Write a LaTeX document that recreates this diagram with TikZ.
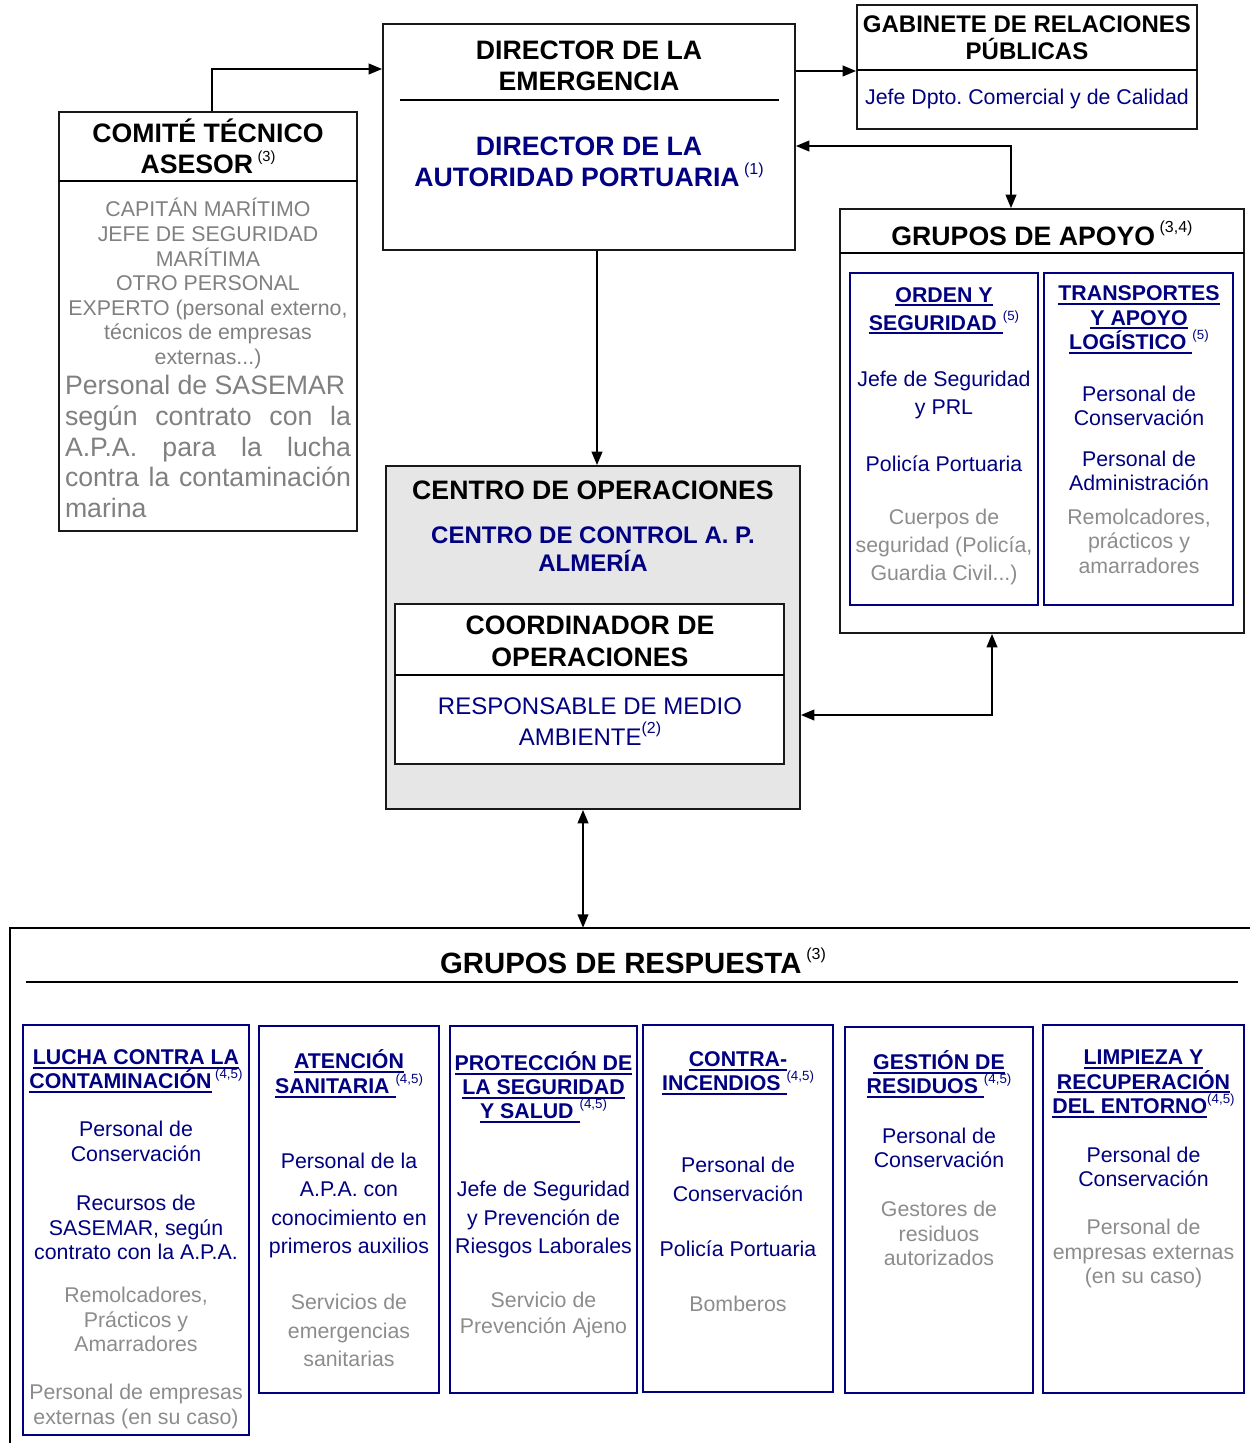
\documentclass[tikz,border=0pt]{standalone}
\usepackage{fontspec}
\setmainfont{Liberation Sans}
\usetikzlibrary{arrows.meta,fit}
\definecolor{navy}{RGB}{0,0,128}
\definecolor{gtxt}{RGB}{128,128,128}
\definecolor{gtxtb}{RGB}{140,140,140}
\definecolor{opfill}{RGB}{230,230,230}
\newcommand\supn[3]{\raisebox{#1}{\fontsize{#2}{#2}\selectfont\mdseries #3}}
\newcommand\myul[1]{\setbox0\hbox{#1}\rlap{\rule[-3pt]{\wd0}{1.5pt}}\box0}
\frenchspacing
\tikzset{
  box/.style={draw=black!90, line width=1.4pt, inner sep=0pt},
  bbox/.style={draw=navy, line width=1.3pt, inner sep=0pt},
  conn/.style={line width=1.3pt, -{Triangle[length=10pt,width=8pt]}},
  conn2/.style={line width=1.3pt, {Triangle[length=10pt,width=8pt]}-{Triangle[length=10pt,width=8pt]}},
  txt/.style={align=center, inner sep=0pt},
  hd/.style={txt, font=\fontsize{20}{23.25}\selectfont\bfseries},
  bh/.style={txt, text=navy, font=\fontsize{16}{#1}\selectfont\bfseries},
  bt/.style={txt, text=navy, font=\fontsize{16}{#1}\selectfont},
  gt/.style={txt, text=gtxtb, font=\fontsize{16}{#1}\selectfont},
  bh/.default=18, bt/.default=18, gt/.default=18.4,
  sep/.style={line width=1.4pt}
}
\begin{document}
\begin{tikzpicture}[x=0.75pt,y=-0.75pt]
\useasboundingbox (0,0) rectangle (1250,1443);

% ---------- Comite tecnico asesor
\node[box, fit={(59,112)(357,531)}] (comite) {};
\draw[sep] (59,181) -- (357,181);
\node[hd] (comiteT) at (208,146.5) {COMITÉ TÉCNICO\\ASESOR\,\supn{0.9ex}{11}{(3)}};
\node[txt, text=gtxt, font=\fontsize{16}{18.4}\selectfont] (comiteA) at (208,283.5)
  {CAPITÁN MARÍTIMO\\JEFE DE SEGURIDAD\\MARÍTIMA\\OTRO PERSONAL\\EXPERTO (personal externo,\\técnicos de empresas\\externas...)};
\node[txt, align=left, text=gtxt, font=\fontsize{20}{23.1}\selectfont] (comiteB) at (208,446.5)
  {Personal de SASEMAR\\\makebox[214.5pt][s]{según contrato con la}\\\makebox[214.5pt][s]{A.P.A. para la lucha}\\\makebox[214.5pt][s]{contra la contaminación}\\marina};

% ---------- Director
\node[box, fit={(383,24)(795,250)}] (director) {};
\draw[sep] (400,100) -- (779,100);
\node[hd] (dirT) at (589,65.5) {DIRECTOR DE LA\\EMERGENCIA};
\node[hd, text=navy] (dirB) at (589,162) {DIRECTOR DE LA\\AUTORIDAD PORTUARIA\,\supn{0.9ex}{12}{(1)}};

% ---------- Gabinete
\node[box, fit={(857,5)(1197,129)}] (gabinete) {};
\draw[sep] (857,70) -- (1197,70);
\node[txt, font=\fontsize{18}{20.25}\selectfont\bfseries] (gabT) at (1027,37.5) {GABINETE DE RELACIONES\\PÚBLICAS};
\node[bt] (gabB) at (1027,98.5) {Jefe Dpto. Comercial y de Calidad};

% ---------- Grupos de apoyo
\node[box, fit={(840,209)(1244,633)}] (apoyo) {};
\draw[sep] (840,253) -- (1244,253);
\node[hd] (apoyoT) at (1042,233) {GRUPOS DE APOYO\,\supn{0.9ex}{12}{(3,4)}};
\node[bbox, fit={(850,273)(1038,605)}] (orden) {};
\node[bbox, fit={(1044,273)(1233,605)}] (transp) {};
\node[bh=21] (ordenH) at (944,311) {\myul{ORDEN Y}\\\myul{SEGURIDAD\ }\supn{0.9ex}{10}{(5)}};
\node[bt=21] (ordenA) at (944,395) {Jefe de Seguridad\\y PRL};
\node[bt] (ordenB) at (944,464) {Policía Portuaria};
\node[gt=21] (ordenC) at (944,547) {Cuerpos de\\seguridad (Policía,\\Guardia Civil...)};
\node[bh=18.4] (transpH) at (1139,320) {\myul{TRANSPORTES}\\\myul{Y APOYO}\\\myul{LOGÍSTICO\ }\supn{0.9ex}{10}{(5)}};
\node[bt] (transpA) at (1139,405.5) {Personal de\\Conservación};
\node[bt] (transpB) at (1139,471) {Personal de\\Administración};
\node[gt] (transpC) at (1139,541) {Remolcadores,\\prácticos y\\amarradores};

% ---------- Centro de operaciones
\node[box, fill=opfill, fit={(386,466)(800,809)}] (centro) {};
\node[hd] (centroT) at (593,490) {CENTRO DE OPERACIONES};
\node[txt, text=navy, font=\fontsize{18}{21}\selectfont\bfseries] (centroB) at (593,549) {CENTRO DE CONTROL A. P.\\ALMERÍA};
\node[box, fill=white, fit={(395,604)(784,764)}] (coord) {};
\draw[sep] (395,675) -- (784,675);
\node[hd, font=\fontsize{20}{24}\selectfont\bfseries] (coordT) at (590,641) {COORDINADOR DE\\OPERACIONES};
\node[txt, text=navy, font=\fontsize{18}{23.25}\selectfont] (coordB) at (590,721.5) {RESPONSABLE DE MEDIO\\AMBIENTE\supn{0.9ex}{12}{(2)}};

% ---------- Grupos de respuesta
\node[inner sep=0pt, fit={(10,928)(1250,1443)}] (resp) {};
\draw[sep] (resp.south west) -- (resp.north west) -- (resp.north east);
\node[txt, font=\fontsize{22}{24}\selectfont\bfseries] (respT) at (633,961) {GRUPOS DE RESPUESTA\,\supn{0.9ex}{12}{(3)}};
\draw[sep] (26,982) -- (1238,982);

\node[bbox, fit={(23,1025)(249,1435)}] (b1) {};
\node[bbox, fit={(259,1026)(439,1393)}] (b2) {};
\node[bbox, fit={(450,1026)(637,1393)}] (b3) {};
\node[bbox, fit={(643,1025)(833,1392)}] (b4) {};
\node[bbox, fit={(845,1027)(1033,1393)}] (b5) {};
\node[bbox, fit={(1043,1025)(1244,1393)}] (b6) {};

\node[bh] (b1H) at (136,1071.5) {\myul{LUCHA CONTRA LA}\\\myul{CONTAMINACIÓN}\,\supn{0.9ex}{10}{(4,5)}};
\node[bt=18.4] (b1A) at (136,1141.5) {Personal de\\Conservación};
\node[bt=18.4] (b1B) at (136,1227.5) {Recursos de\\SASEMAR, según\\contrato con la A.P.A.};
\node[gt] (b1C) at (136,1319.5) {Remolcadores,\\Prácticos y\\Amarradores};
\node[gt=18.75] (b1D) at (136,1406.5) {Personal de empresas\\externas (en su caso)};

\node[bh=18.75] (b2H) at (349,1074) {\myul{ATENCIÓN}\\\myul{SANITARIA\ }\supn{0.9ex}{10}{(4,5)}};
\node[bt=21.25] (b2A) at (349,1205.5) {Personal de la\\A.P.A. con\\conocimiento en\\primeros auxilios};
\node[gt=21.25] (b2B) at (349,1330.5) {Servicios de\\emergencias\\sanitarias};

\node[bh] (b3H) at (543.5,1087.5) {\myul{PROTECCIÓN DE}\\\myul{LA SEGURIDAD}\\\myul{Y SALUD\ }\supn{0.9ex}{10}{(4,5)}};
\node[bt=21.25] (b3A) at (543.5,1219.5) {Jefe de Seguridad\\y Prevención de\\Riesgos Laborales};
\node[gt=19] (b3B) at (543.5,1315) {Servicio de\\Prevención Ajeno};

\node[bh] (b4H) at (738,1073.5) {\myul{CONTRA-}\\\myul{INCENDIOS\ }\supn{0.9ex}{10}{(4,5)}};
\node[bt=21.75] (b4A) at (738,1179.5) {Personal de\\Conservación};
\node[bt] (b4B) at (738,1249) {Policía Portuaria};
\node[gt] (b4C) at (738,1304) {Bomberos};

\node[bh] (b5H) at (939,1074.5) {\myul{GESTIÓN DE}\\\myul{RESIDUOS\ }\supn{0.9ex}{10}{(4,5)}};
\node[bt] (b5A) at (939,1148) {Personal de\\Conservación};
\node[gt] (b5B) at (939,1233.5) {Gestores de\\residuos\\autorizados};

\node[bh=18.4] (b6H) at (1143.5,1084) {\myul{LIMPIEZA Y}\\\myul{RECUPERACIÓN}\\\myul{DEL ENTORNO}\supn{0.9ex}{10}{(4,5)}};
\node[bt] (b6A) at (1143.5,1167) {Personal de\\Conservación};
\node[gt] (b6B) at (1143.5,1253.5) {Personal de\\empresas externas\\(en su caso)};

% ---------- Connectors
\coordinate (pA) at (212,69);
\coordinate (yB) at (0,71);
\coordinate (pC) at (1011,146);
\coordinate (xD) at (597,0);
\coordinate (pE) at (992,715);
\coordinate (xF) at (583,0);
\draw[conn] (comite.north -| pA) |- (director.west |- pA);
\draw[conn] (director.east |- yB) -- (gabinete.west |- yB);
\draw[conn2] (director.east |- pC) -| (apoyo.north -| pC);
\draw[conn] (director.south -| xD) -- (centro.north -| xD);
\draw[conn2] (centro.east |- pE) -| (apoyo.south -| pE);
\draw[conn2] (centro.south -| xF) -- (resp.north -| xF);
\end{tikzpicture}
\end{document}
